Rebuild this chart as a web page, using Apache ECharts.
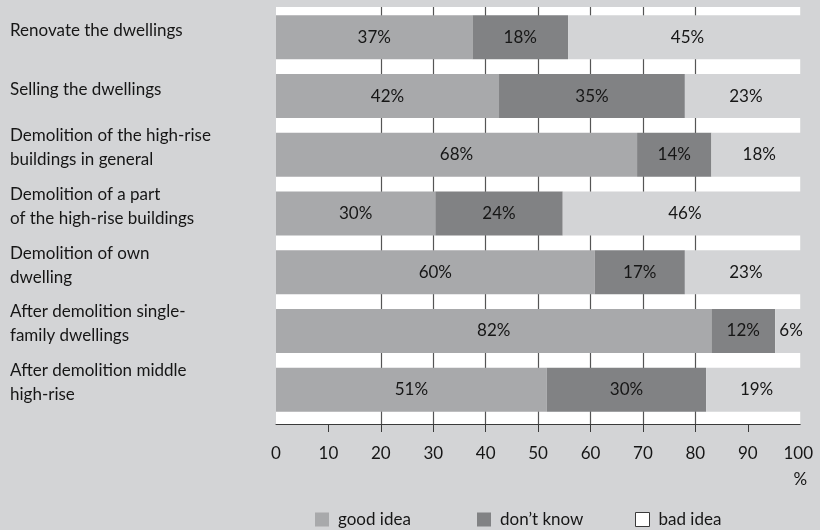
<!DOCTYPE html>
<html>
<head>
<meta charset="utf-8">
<script src="https://cdn.jsdelivr.net/npm/echarts@6/dist/echarts.min.js"></script>
<style>
  html, body { margin: 0; padding: 0; background: #d3d4d6; }
  #chart { width: 820px; height: 530px; }
</style>
</head>
<body>
<div id="chart"></div>
<script>
// Survey answers per measure, shares in percent
const categories = [
  'Renovate the dwellings',
  'Selling the dwellings',
  'Demolition of the high-rise\nbuildings in general',
  'Demolition of a part\nof the high-rise buildings',
  'Demolition of own\ndwelling',
  'After demolition single-\nfamily dwellings',
  'After demolition middle\nhigh-rise'
];
const goodIdea = [37, 42, 68, 30, 60, 82, 51];
const dontKnow = [18, 35, 14, 24, 17, 12, 30];
const badIdea  = [45, 23, 18, 46, 23, 6, 19];
const seriesNames = ['good idea', 'don\u2019t know', 'bad idea'];
const xTicks = [0, 10, 20, 30, 40, 50, 60, 70, 80, 90, 100];
const unitLabel = '%';

const FONT = 'Lato, "Open Sans", sans-serif';
const FS = 17;
const BG = '#d3d4d6';
const C_GOOD = '#a8a9ab';
const C_DK = '#818284';
const INK = '#161616';

const chart = echarts.init(document.getElementById('chart'), null, { renderer: 'canvas' });

const innerTicks = xTicks.slice(1, -1);
const xMin = xTicks[0];
const xMax = xTicks[xTicks.length - 1];

function segLabel() {
  return {
    show: true,
    position: 'inside',
    formatter: '{c}%',
    color: INK,
    fontFamily: FONT,
    fontSize: FS
  };
}

// one legend block per answer, laid out in fixed-width columns
const legendLefts = [315, 477, 635];
const legendItemStyles = [
  {},
  {},
  { color: '#ffffff', borderColor: '#3a3a3a', borderWidth: 1 }
];
const legends = seriesNames.map(function (name, i) {
  return {
    left: legendLefts[i],
    top: 511,
    padding: 0,
    itemWidth: 14,
    itemHeight: 14,
    icon: 'rect',
    selectedMode: false,
    textStyle: { color: INK, fontFamily: FONT, fontSize: FS, padding: [0, 0, 0, 4] },
    data: [{ name: name, itemStyle: legendItemStyles[i] }]
  };
});

chart.setOption({
  backgroundColor: BG,
  animation: false,
  textStyle: { fontFamily: FONT },
  grid: [
    // bars
    { left: 276, right: 13, top: 8, height: 411 },
    // white plot field with grid lines and the value axis
    { left: 276, right: 13, top: 7, height: 417, show: true, backgroundColor: '#ffffff', borderWidth: 0 }
  ],
  xAxis: [
    { gridIndex: 0, type: 'value', min: xMin, max: xMax, show: false },
    {
      gridIndex: 1, type: 'value', min: xMin, max: xMax, interval: xTicks[1] - xTicks[0],
      axisLine: { show: true, lineStyle: { color: '#3a3a3a', width: 1 } },
      axisTick: { show: true, length: 8, customValues: innerTicks, lineStyle: { color: '#3a3a3a', width: 1 } },
      splitLine: { show: true, showMinLine: false, showMaxLine: false, lineStyle: { color: '#555555', width: 1.2 } },
      axisLabel: {
        margin: 20,
        color: INK,
        fontFamily: FONT,
        fontSize: FS,
        lineHeight: 20,
        formatter: function (v) {
          return v === xMax ? '{m|' + v + '}\n{p|' + unitLabel + '}' : String(v);
        },
        rich: {
          m: { fontSize: FS, lineHeight: 20, color: INK, fontFamily: FONT, padding: [0, 4, 0, 0] },
          p: { fontSize: FS, lineHeight: 32, color: INK, fontFamily: FONT, padding: [0, 0, 0, 0] }
        }
      }
    }
  ],
  yAxis: [
    {
      gridIndex: 0, type: 'category', inverse: true, data: categories,
      axisLine: { show: false }, axisTick: { show: false }, splitLine: { show: false },
      axisLabel: {
        interval: 0,
        hideOverlap: false,
        align: 'left',
        margin: 266,
        verticalAlign: 'middle',
        color: INK,
        fontFamily: FONT,
        fontSize: FS,
        lineHeight: 24,
        // a short empty line under each label lifts the text a little above the bar centre
        formatter: function (v) {
          return v.split('\n').map(function (s) { return '{t|' + s + '}'; }).join('\n') + '\n{s| }';
        },
        rich: {
          t: { fontSize: FS, lineHeight: 24, color: INK, fontFamily: FONT },
          s: { fontSize: 4, lineHeight: 14 }
        }
      }
    },
    { gridIndex: 1, type: 'value', show: false }
  ],
  legend: legends,
  series: [
    { name: seriesNames[0], type: 'bar', stack: 'all', xAxisIndex: 0, yAxisIndex: 0, barWidth: 44,
      itemStyle: { color: C_GOOD }, label: segLabel(), data: goodIdea },
    { name: seriesNames[1], type: 'bar', stack: 'all', xAxisIndex: 0, yAxisIndex: 0, barWidth: 44,
      itemStyle: { color: C_DK }, label: segLabel(), data: dontKnow },
    { name: seriesNames[2], type: 'bar', stack: 'all', xAxisIndex: 0, yAxisIndex: 0, barWidth: 44,
      itemStyle: { color: BG }, label: segLabel(), data: badIdea }
  ]
});
</script>
</body>
</html>
